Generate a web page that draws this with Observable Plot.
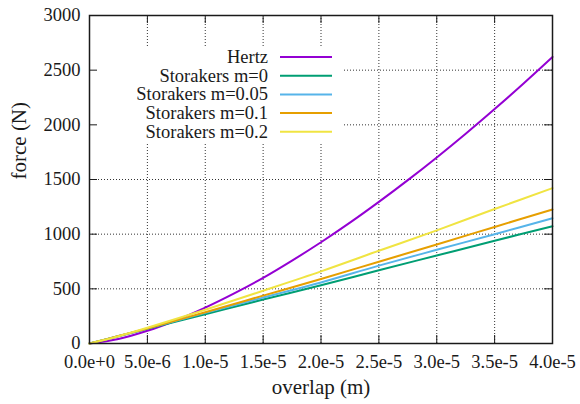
<!DOCTYPE html>
<html>
<head>
<meta charset="utf-8">
<script src="https://cdn.jsdelivr.net/npm/d3@7"></script>
<script src="https://cdn.jsdelivr.net/npm/@observablehq/plot@0.6"></script>
<style>
  html, body { margin: 0; padding: 0; background: #fff; }
  #chart svg, #chart svg text { font-family: "Liberation Serif", "DejaVu Serif", serif; }
</style>
</head>
<body>
<div id="chart"></div>
<script>
// Contact force vs overlap: Hertz model and Storakers model for several m
const seriesNames = ["Hertz", "Storakers m=0", "Storakers m=0.05", "Storakers m=0.1", "Storakers m=0.2"];
const seriesColors = ["#9400d3", "#009e73", "#56b4e9", "#e69f00", "#f0e442"];

const overlapHertz = [0, 2.5e-6, 5e-6, 7.5e-6, 1e-5, 1.25e-5, 1.5e-5, 1.75e-5, 2e-5,
  2.25e-5, 2.5e-5, 2.75e-5, 3e-5, 3.25e-5, 3.5e-5, 3.75e-5, 4e-5];
const forceHertz = [0, 41, 116, 213, 328, 458, 600, 758, 926,
  1105, 1295, 1494, 1702, 1919, 2145, 2378, 2620];

const overlapStorakers = [0, 2.5e-6, 5e-6, 1e-5, 1.5e-5, 2e-5, 2.5e-5, 3e-5, 3.5e-5, 4e-5];
const forceStorakersM0   = [0, 67, 134, 268, 402, 532, 670, 805, 940, 1073];
const forceStorakersM005 = [0, 68, 136, 280, 420, 558, 712, 857, 1000, 1146];
const forceStorakersM01  = [0, 68, 138, 286, 438, 590, 748, 906, 1066, 1226];
const forceStorakersM02  = [0, 67, 144, 309, 483, 660, 848, 1035, 1230, 1421];

const xTicks = [0, 5e-6, 1e-5, 1.5e-5, 2e-5, 2.5e-5, 3e-5, 3.5e-5, 4e-5];
const xTickLabels = ["0.0e+0", "5.0e-6", "1.0e-5", "1.5e-5", "2.0e-5", "2.5e-5", "3.0e-5", "3.5e-5", "4.0e-5"];
const yTicks = [0, 500, 1000, 1500, 2000, 2500, 3000];
const yTickLabels = ["0", "500", "1000", "1500", "2000", "2500", "3000"];

const xLabel = "overlap (m)";
const yLabel = "force (N)";

// tidy rows for the line mark
const seriesForces = [forceHertz, forceStorakersM0, forceStorakersM005, forceStorakersM01, forceStorakersM02];
const rows = [];
seriesNames.forEach((name, i) => {
  const xs = i === 0 ? overlapHertz : overlapStorakers;
  xs.forEach((x, j) => rows.push({series: name, overlap: x, force: seriesForces[i][j]}));
});

const xLabelOf = new Map(xTicks.map((t, i) => [t, xTickLabels[i]]));
const yLabelOf = new Map(yTicks.map((t, i) => [t, yTickLabels[i]]));

const W = 580, H = 404;
const M = {top: 15, right: 28, bottom: 61, left: 89};
const plotW = W - M.left - M.right;
const plotH = H - M.top - M.bottom;
const tickLen = 8;
const font = "'Liberation Serif', 'DejaVu Serif', serif";

// key drawn inside the frame, top left, on an opaque background
function key(index, scales, values, dims) {
  const g = d3.create("svg:g").attr("font-size", 18.5);
  g.append("rect")
    .attr("x", dims.marginLeft + 1).attr("y", dims.marginTop + 32)
    .attr("width", 252).attr("height", 96).attr("fill", "#fff");
  seriesNames.forEach((name, i) => {
    const y = dims.marginTop + 42 + i * 18.7;
    g.append("text")
      .attr("x", dims.marginLeft + 179).attr("y", y).attr("dy", "0.32em")
      .attr("text-anchor", "end").attr("fill", "#1a1a1a").text(name);
    g.append("line")
      .attr("x1", dims.marginLeft + 191).attr("x2", dims.marginLeft + 243)
      .attr("y1", y).attr("y2", y)
      .attr("stroke", seriesColors[i]).attr("stroke-width", 2);
  });
  return g.node();
}

const chart = Plot.plot({
  width: W,
  height: H,
  marginTop: M.top,
  marginRight: M.right,
  marginBottom: M.bottom,
  marginLeft: M.left,
  style: {fontFamily: font, fontSize: "18.5px", background: "#fff", color: "#1a1a1a"},
  x: {domain: [0, 4e-5]},
  y: {domain: [0, 3000]},
  color: {domain: seriesNames, range: seriesColors},
  marks: [
    Plot.gridX(xTicks.slice(1, -1), {stroke: "#333", strokeOpacity: 1, strokeDasharray: "1,2"}),
    Plot.gridY(yTicks.slice(1, -1), {stroke: "#333", strokeOpacity: 1, strokeDasharray: "1,2"}),
    key,
    Plot.line(rows, {x: "overlap", y: "force", z: "series", stroke: "series",
      strokeWidth: 2, curve: "catmull-rom"}),
    // inward ticks on all four sides
    Plot.tickX(xTicks, {x: d => d, insetTop: plotH - tickLen, stroke: "#1a1a1a"}),
    Plot.tickX(xTicks, {x: d => d, insetBottom: plotH - tickLen, stroke: "#1a1a1a"}),
    Plot.tickY(yTicks, {y: d => d, insetRight: plotW - tickLen, stroke: "#1a1a1a"}),
    Plot.tickY(yTicks, {y: d => d, insetLeft: plotW - tickLen, stroke: "#1a1a1a"}),
    Plot.frame({stroke: "#1a1a1a", strokeWidth: 1.5}),
    Plot.axisX(xTicks, {tickSize: 0, tickPadding: 11, tickFormat: d => xLabelOf.get(d),
      label: null, fontSize: 18.5}),
    Plot.axisY(yTicks, {tickSize: 0, tickPadding: 9, tickFormat: d => yLabelOf.get(d),
      label: null, fontSize: 18.5}),
    Plot.text([xLabel], {frameAnchor: "bottom", dy: 44, fontSize: 21, lineAnchor: "middle",
      text: d => d, fill: "#1a1a1a"}),
    Plot.text([yLabel], {frameAnchor: "left", dx: -70, rotate: -90, fontSize: 21,
      lineAnchor: "middle", text: d => d, fill: "#1a1a1a"})
  ]
});

document.getElementById("chart").appendChild(chart);
</script>
</body>
</html>
